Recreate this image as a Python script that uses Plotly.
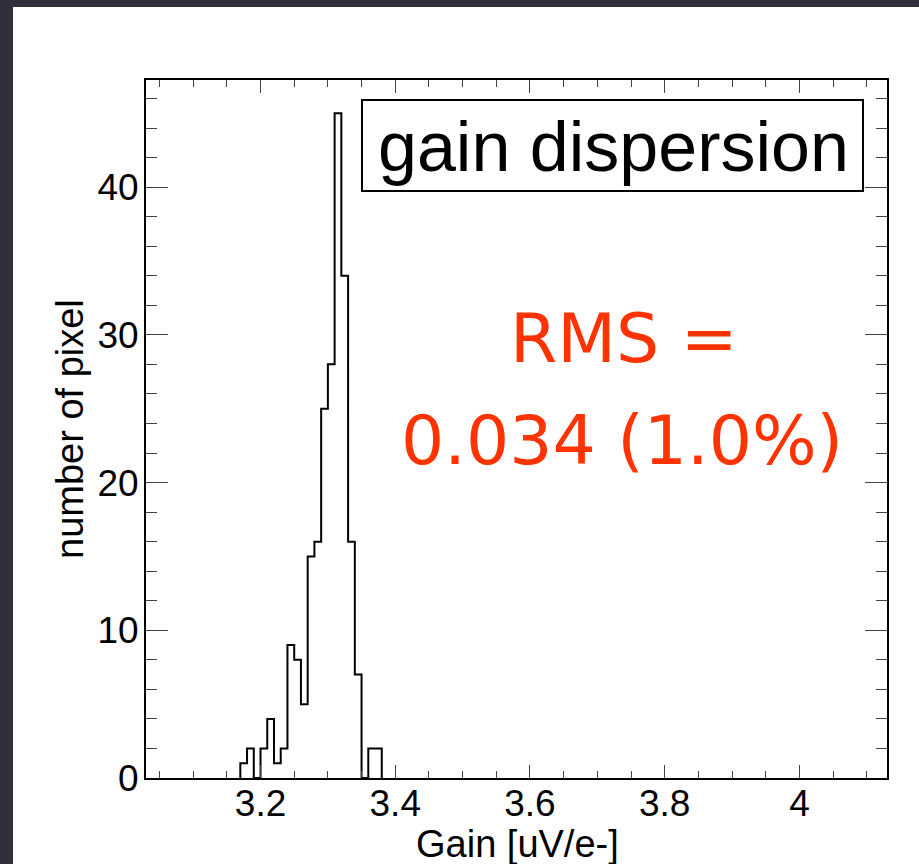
import plotly.graph_objects as go

# ---- data ----
bin_low_edges = [3.17, 3.18, 3.19, 3.20, 3.21, 3.22, 3.23, 3.24, 3.25, 3.26, 3.27,
                 3.28, 3.29, 3.30, 3.31, 3.32, 3.33, 3.34, 3.35, 3.36, 3.37]
counts = [1, 2, 0, 2, 4, 1, 2, 9, 8, 5, 15, 16, 25, 28, 45, 34, 16, 7, 0, 2, 2]
bin_width = 0.01

x_range = [3.03, 4.13]
y_range = [0, 47.25]
x_tick_vals = [3.2, 3.4, 3.6, 3.8, 4.0]
x_tick_text = ["3.2", "3.4", "3.6", "3.8", "4"]
y_tick_vals = [0, 10, 20, 30, 40]
y_tick_text = ["0", "10", "20", "30", "40"]

x_title = "Gain [uV/e-]"
y_title = "number of pixel"
legend_text = "gain dispersion"
rms_line1 = "RMS ="
rms_line2 = "0.034 (1.0%)"

# ---- layout geometry ----
W, H = 919, 864
L, R, T, B = 146, 32, 80, 86
PW, PH = W - L - R, H - T - B


def px(x):
    return (x - L) / PW


def py(y):
    return (H - B - y) / PH


# step outline of histogram
step_x = [bin_low_edges[0]] + bin_low_edges + [bin_low_edges[-1] + bin_width]
step_y = [0] + counts + [0]

fig = go.Figure()
fig.add_trace(go.Scatter(
    x=step_x, y=step_y, mode="lines", line_shape="hv",
    line=dict(color="black", width=2), hoverinfo="skip", showlegend=False,
))

font_ticks = dict(family="Liberation Sans, Arial, sans-serif", size=37, color="black")
font_title = dict(family="Liberation Sans, Arial, sans-serif", size=38, color="black")

fig.update_xaxes(
    range=x_range, showgrid=False, zeroline=False,
    showline=True, linewidth=2, linecolor="black", mirror="allticks",
    ticks="inside", ticklen=13, tickwidth=1, tickcolor="#444",
    tickvals=x_tick_vals, ticktext=x_tick_text, tickfont=font_ticks,
    minor=dict(ticks="inside", dtick=0.05, ticklen=7, tickwidth=1, tickcolor="#444"),
    ticklabelstandoff=-8,
)
fig.update_yaxes(
    range=y_range, showgrid=False, zeroline=False,
    showline=True, linewidth=2, linecolor="black", mirror="allticks",
    ticks="inside", ticklen=22, tickwidth=1, tickcolor="#444",
    tickvals=y_tick_vals, ticktext=y_tick_text, tickfont=font_ticks,
    minor=dict(ticks="inside", dtick=2, ticklen=11, tickwidth=1, tickcolor="#444"),
    ticklabelstandoff=-2,
)

shapes = [
    # white canvas over dark frame
    dict(type="rect", xref="paper", yref="paper", layer="below",
         x0=px(13), x1=px(W + 5), y0=py(H + 5), y1=py(7),
         fillcolor="white", line=dict(width=0)),
    # legend box
    dict(type="rect", xref="paper", yref="paper",
         x0=px(362), x1=px(863), y0=py(191), y1=py(100),
         fillcolor="white", line=dict(color="black", width=2)),
]

annotations = [
    dict(text=legend_text, xref="paper", yref="paper", x=px(613), y=py(147),
         xanchor="center", yanchor="middle", showarrow=False,
         font=dict(family="Liberation Sans, Arial, sans-serif", size=70, color="black")),
    dict(text=rms_line1, xref="paper", yref="paper", x=px(624), y=py(338),
         xanchor="center", yanchor="middle", showarrow=False,
         font=dict(family="DejaVu Sans, sans-serif", size=68, color="#ff3300")),
    dict(text=rms_line2, xref="paper", yref="paper", x=px(622), y=py(440),
         xanchor="center", yanchor="middle", showarrow=False,
         font=dict(family="DejaVu Sans, sans-serif", size=68, color="#ff3300")),
    dict(text=x_title, xref="paper", yref="paper", x=px(517), y=py(844),
         xanchor="center", yanchor="middle", showarrow=False, font=font_title),
    dict(text=y_title, xref="paper", yref="paper", x=px(70), y=py(429),
         xanchor="center", yanchor="middle", showarrow=False, textangle=-90,
         font=font_title),
]

fig.update_layout(
    width=W, height=H,
    margin=dict(l=L, r=R, t=T, b=B, pad=0),
    paper_bgcolor="#322f3d", plot_bgcolor="white",
    shapes=shapes, annotations=annotations, showlegend=False,
)

fig.write_html(
    "out.html",
    config={"displayModeBar": False},
    post_script="document.body.style.margin='0';document.body.style.background='#322f3d';",
)
